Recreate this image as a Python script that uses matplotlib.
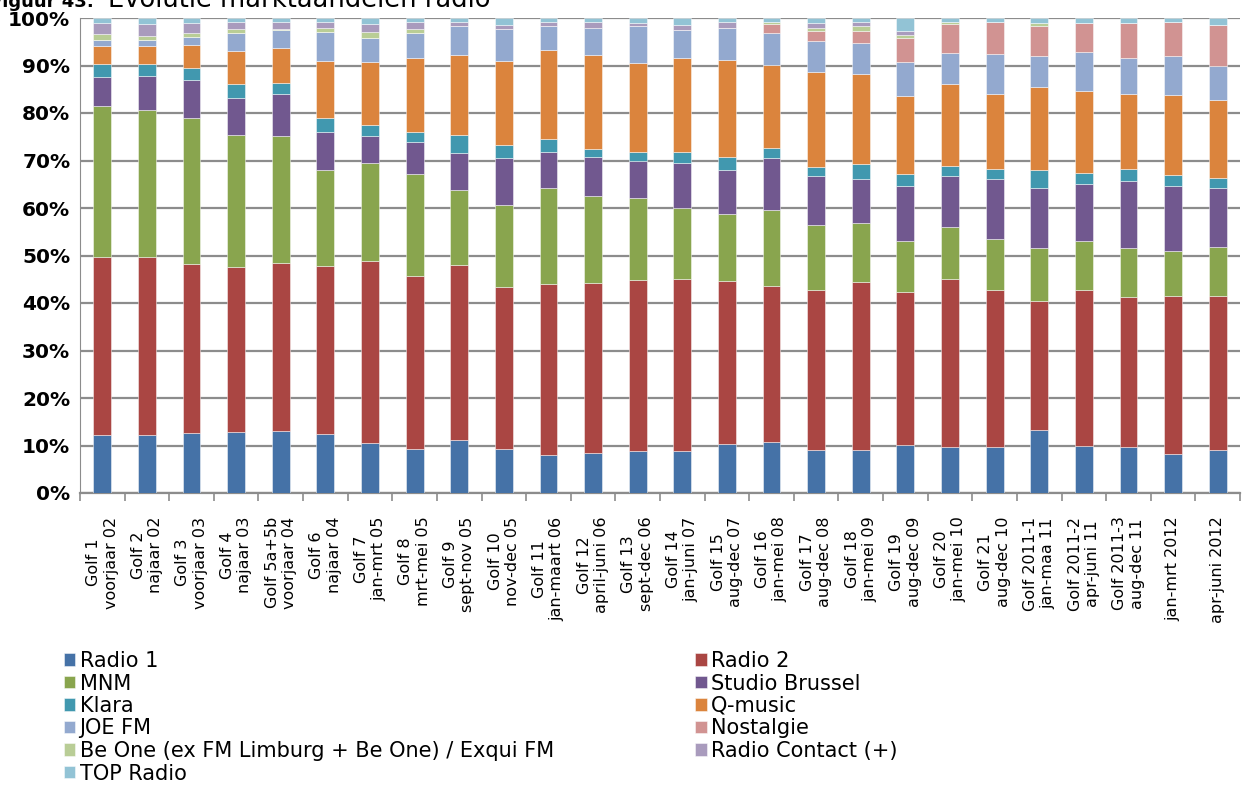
import numpy as np
import matplotlib
matplotlib.use("Agg")
import matplotlib.pyplot as plt
from matplotlib.ticker import FixedLocator, PercentFormatter

# categories (two-line tick labels)
waves = [
    "Golf 1\nvoorjaar 02", "Golf 2\nnajaar 02", "Golf 3\nvoorjaar 03", "Golf 4\nnajaar 03",
    "Golf 5a+5b\nvoorjaar 04", "Golf 6\nnajaar 04", "Golf 7\njan-mrt 05", "Golf 8\nmrt-mei 05",
    "Golf 9\nsept-nov 05", "Golf 10\nnov-dec 05", "Golf 11\njan-maart 06", "Golf 12\napril-juni 06",
    "Golf 13\nsept-dec 06", "Golf 14\njan-juni 07", "Golf 15\naug-dec 07", "Golf 16\njan-mei 08",
    "Golf 17\naug-dec 08", "Golf 18\njan-mei 09", "Golf 19\naug-dec 09", "Golf 20\njan-mei 10",
    "Golf 21\naug-dec 10", "Golf 2011-1\njan-maa 11", "Golf 2011-2\napr-juni 11",
    "Golf 2011-3\naug-dec 11", "jan-mrt 2012", "apr-juni 2012",
]

# market shares (%) per station
radio1 = [12.2, 12.2, 12.7, 12.8, 13.0, 12.4, 10.5, 9.3, 11.1, 9.2, 8.0, 8.5, 8.9,
          8.9, 10.3, 10.7, 9.1, 9.0, 10.1, 9.7, 9.7, 13.2, 9.9, 9.7, 8.2, 9.0]
radio2 = [37.5, 37.5, 35.5, 34.7, 35.4, 35.4, 38.3, 36.3, 36.8, 34.2, 36.0, 35.7, 36.0,
          36.2, 34.3, 32.9, 33.7, 35.4, 32.2, 35.3, 33.1, 27.2, 32.9, 31.6, 33.3, 32.5]
mnm = [31.7, 31.0, 30.8, 27.9, 26.7, 20.1, 20.6, 21.6, 15.9, 17.3, 20.2, 18.3, 17.2,
       14.9, 14.2, 15.9, 13.6, 12.5, 10.7, 10.9, 10.6, 11.2, 10.3, 10.2, 9.4, 10.3]
stubru = [6.2, 7.1, 7.9, 7.8, 8.8, 8.0, 5.8, 6.6, 7.7, 9.8, 7.5, 8.2, 7.9,
          9.4, 9.2, 11.0, 10.4, 9.2, 11.6, 10.8, 12.7, 12.6, 12.0, 14.1, 13.8, 12.4]
klara = [2.7, 2.5, 2.6, 2.9, 2.5, 3.0, 2.3, 2.1, 3.9, 2.8, 2.8, 1.7, 1.7,
         2.3, 2.7, 2.1, 1.8, 3.1, 2.6, 2.1, 2.1, 3.7, 2.2, 2.6, 2.3, 2.1]
qmusic = [3.8, 3.9, 4.9, 6.9, 7.2, 12.0, 13.2, 15.7, 16.9, 17.7, 18.7, 19.8, 18.8,
          19.8, 20.4, 17.5, 20.1, 19.0, 16.4, 17.4, 15.8, 17.6, 17.3, 15.8, 16.8, 16.5]
joefm = [1.3, 1.1, 1.5, 3.9, 3.9, 6.1, 5.0, 5.3, 6.0, 6.7, 5.1, 5.8, 7.8,
         6.0, 6.9, 6.7, 6.4, 6.5, 7.2, 6.5, 8.4, 6.5, 8.3, 7.5, 8.1, 7.1]
nostalgie = [0, 0, 0, 0, 0, 0, 0, 0, 0, 0, 0, 0, 0,
             0, 0, 1.9, 2.1, 2.6, 4.9, 6.0, 6.7, 6.3, 6.0, 7.4, 7.2, 8.6]
beone = [1.3, 1.0, 1.0, 0.7, 0.1, 0.8, 1.4, 0.7, 0, 0, 0, 0, 0,
         0, 0, 0.5, 0.8, 1.1, 0.7, 0.5, 0, 0.6, 0, 0, 0, 0]
contact = [2.2, 2.4, 2.0, 1.5, 1.6, 1.4, 1.6, 1.6, 0.8, 0.8, 0.8, 1.1, 0.7,
           1.0, 1.1, 0, 0.9, 0.7, 0.8, 0, 0, 0, 0, 0, 0, 0]
topradio = [1.1, 1.3, 1.1, 0.9, 0.8, 0.8, 1.3, 0.8, 0.9, 1.5, 0.9, 0.9, 1.0,
            1.5, 0.9, 0.8, 1.1, 0.9, 2.8, 0.8, 0.9, 1.1, 1.1, 1.1, 0.9, 1.5]

stations = ["Radio 1", "Radio 2", "MNM", "Studio Brussel", "Klara", "Q-music", "JOE FM",
            "Nostalgie", "Be One (ex FM Limburg + Be One) / Exqui FM",
            "Radio Contact (+)", "TOP Radio"]
series = [radio1, radio2, mnm, stubru, klara, qmusic, joefm, nostalgie, beone, contact, topradio]
colors = ["#4572A7", "#AA4643", "#89A54E", "#71588F", "#4198AF", "#DB843D", "#93A9CF",
          "#D19392", "#B9CD96", "#A99BBD", "#92C3D5"]

data = np.array(series, dtype=float)
data = data / data.sum(axis=0) * 100  # 100% stacked

fig = plt.figure(figsize=(12.43, 7.90), dpi=100)
ax = fig.add_axes([80 / 1243, 1 - 493 / 790, 1160 / 1243, 475 / 790])

x = np.arange(len(waves))
bottom = np.zeros(len(waves))
handles = []
for vals, name, col in zip(data, stations, colors):
    b = ax.bar(x, vals, 0.4, bottom=bottom, color=col, label=name,
               edgecolor=(1, 1, 1, 0.55), linewidth=0.6, zorder=3)
    handles.append(b)
    bottom += vals

ax.set_xlim(-0.5, len(waves) - 0.5)
ax.set_ylim(0, 100)
ax.yaxis.set_major_locator(FixedLocator(np.arange(0, 101, 10)))
ax.yaxis.set_major_formatter(PercentFormatter(decimals=0))
ax.grid(axis="y", color="#8c8c8c", linewidth=1.6, zorder=0)
for s in ["top", "right"]:
    ax.spines[s].set_visible(False)
ax.spines["left"].set_color("#8c8c8c")
ax.spines["bottom"].set_color("#8c8c8c")
ax.spines["bottom"].set_linewidth(1.6)

for lab in ax.get_yticklabels():
    lab.set_fontfamily("DejaVu Sans")
    lab.set_fontweight("bold")
    lab.set_fontsize(14.5)
ax.tick_params(axis="y", length=0, pad=7)

ax.set_xticks(x)
ax.set_xticklabels(waves, rotation=90, va="top", ha="center", multialignment="center",
                   fontsize=11.5, fontfamily="DejaVu Sans")
ax.set_xticks(np.arange(-0.5, len(waves), 1), minor=True)
ax.tick_params(axis="x", which="major", length=0, pad=17)
ax.tick_params(axis="x", which="minor", length=6, color="#8c8c8c", width=1.2)

# legend filled row-wise in two columns
order = [0, 2, 4, 6, 8, 10, 1, 3, 5, 7, 9]
leg = fig.legend([handles[i] for i in order], [stations[i] for i in order], ncol=2,
                 loc="upper left", bbox_to_anchor=(64 / 1243, 1 - 651 / 790),
                 frameon=False, prop={"family": "DejaVu Sans", "size": 15},
                 handlelength=0.55, handleheight=0.55, handletextpad=0.2,
                 labelspacing=0.12, columnspacing=6.8, borderaxespad=0, borderpad=0)

# title, partly cut off at the top edge as in the source
fig.text(-10 / 1243, 1 - 7 / 790, "Figuur 43:", fontsize=13, fontweight="bold",
         fontfamily="DejaVu Sans", va="baseline", ha="left")
fig.text(108 / 1243, 1 - 7 / 790, "Evolutie marktaandelen radio", fontsize=18.5,
         fontfamily="DejaVu Sans", va="baseline", ha="left")

fig.savefig("out.png", dpi=100)
